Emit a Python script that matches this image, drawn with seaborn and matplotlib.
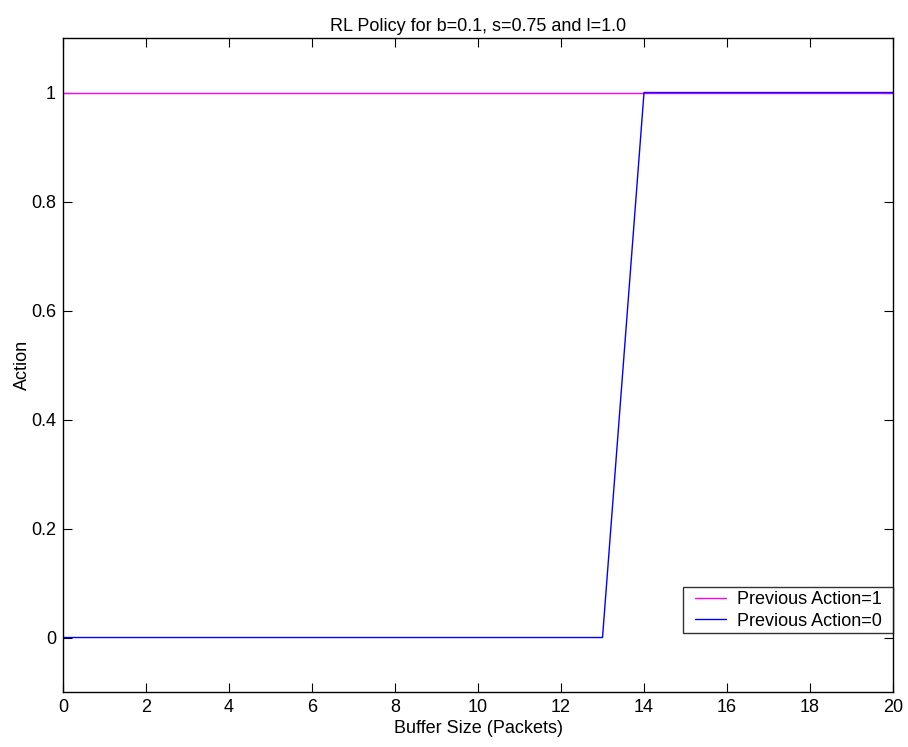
import matplotlib
matplotlib.use("Agg")
import matplotlib.pyplot as plt
from matplotlib.path import Path
import seaborn as sns
import pandas as pd
import numpy as np

# Policy data: action taken for each buffer size
buffer_size = list(range(0, 21))
action_prev1 = [1] * 21
action_prev0 = [0] * 14 + [1] * 7
series_labels = ["Previous Action=1", "Previous Action=0"]
series_colors = ["#ff00ff", "#0000ff"]
x_ticks = list(range(0, 21, 2))
y_ticks = [0, 0.2, 0.4, 0.6, 0.8, 1]
y_tick_labels = ["0", "0.2", "0.4", "0.6", "0.8", "1"]

df = pd.DataFrame({
    "buffer": buffer_size * 2,
    "action": action_prev1 + action_prev0,
    "series": [series_labels[0]] * 21 + [series_labels[1]] * 21,
})

sns.set_theme(style="white")
plt.rcParams["font.family"] = ["Liberation Sans", "DejaVu Sans"]
plt.rcParams["text.color"] = "black"
plt.rcParams["axes.labelcolor"] = "black"
FS = 13

fig = plt.figure(figsize=(9.08, 7.47), dpi=100)
ax = fig.add_axes([0.0694, 0.0736, 0.9141, 0.8755])

sns.lineplot(data=df, x="buffer", y="action", hue="series",
             palette=dict(zip(series_labels, series_colors)),
             linewidth=1.0, ax=ax, legend=True)

ax.set_xlim(0, 20)
ax.set_ylim(-0.1, 1.1)
ax.set_xticks(x_ticks)
ax.set_yticks(y_ticks)
ax.set_yticklabels(y_tick_labels)
ax.tick_params(direction="in", length=6.5, width=0.8, top=True, right=True,
               bottom=True, left=True, labelsize=FS, colors="black", pad=5)
for sp in ax.spines.values():
    sp.set_color("black")
    sp.set_linewidth(1.0)

ax.set_xlabel("Buffer Size (Packets)", fontsize=FS, labelpad=3, color="black")
ax.set_ylabel("Action", fontsize=FS, labelpad=0, color="black")
ax.set_title("RL Policy for b=0.1, s=0.75 and l=1.0", fontsize=FS, pad=5,
             color="black")

# Legend frame wider than tall: extra horizontal room around the entries
EXTRA_X = 8.0


def wide_box(x0, y0, width, height, mutation_size):
    xa, xb = x0 - EXTRA_X, x0 + width + EXTRA_X
    ya, yb = y0, y0 + height
    return Path([(xa, ya), (xb, ya), (xb, yb), (xa, yb), (xa, ya)], closed=True)


ax_width_px = fig.get_figwidth() * fig.dpi * ax.get_position().width
leg = ax.legend(loc="lower right",
                bbox_to_anchor=(1.0 - EXTRA_X / ax_width_px, 0.090),
                frameon=True, fancybox=False, fontsize=FS,
                borderpad=0.2, handlelength=1.7, handletextpad=0.6,
                labelspacing=0.25, borderaxespad=0)
leg.get_frame().set_boxstyle(wide_box)
leg.get_frame().set_edgecolor("black")
leg.get_frame().set_linewidth(1.0)
for line in leg.get_lines():
    line.set_linewidth(1.0)
for txt in leg.get_texts():
    txt.set_color("black")

fig.savefig("out.png", dpi=100)
